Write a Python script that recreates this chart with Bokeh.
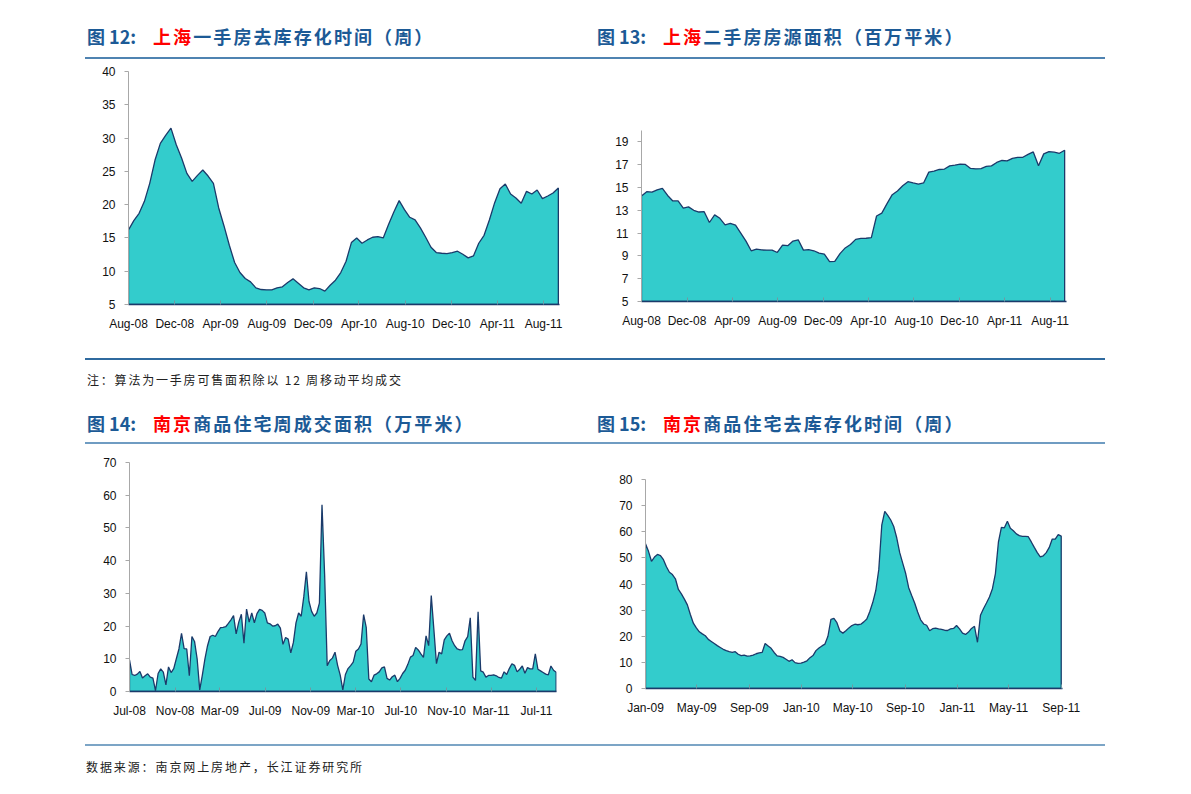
import pandas as pd
from bokeh.plotting import figure
from bokeh.layouts import column, row
from bokeh.models import Div, FixedTicker, DatetimeTickFormatter, Range1d
from bokeh.embed import file_html
from bokeh.resources import INLINE

# ---------------- data ----------------
# Fig 12: Shanghai new-home destocking time (weeks), bi-weekly from Aug-2008
start12 = "2008-08-01"
v12 = [16.2, 17.6, 18.7, 20.5, 23.2, 26.7, 29.2, 30.4, 31.5, 29.0, 27.0, 24.7, 23.5, 24.4,
       25.2, 24.3, 23.2, 19.5, 16.8, 13.9, 11.3, 9.8, 8.9, 8.4, 7.5, 7.25, 7.2, 7.2, 7.5, 7.65,
       8.3, 8.85, 8.2, 7.5, 7.2, 7.5, 7.4, 7.0, 7.9, 8.65, 9.8, 11.5, 14.3, 15.0, 14.2, 14.7,
       15.1, 15.2, 15.0, 17.0, 18.9, 20.6, 19.25, 18.1, 17.7, 16.5, 15.1, 13.6, 12.8, 12.7,
       12.65, 12.8, 13.0, 12.55, 12.0, 12.3, 14.2, 15.4, 17.7, 20.3, 22.4, 23.1, 21.6, 21.0,
       20.2, 22.0, 21.6, 22.2, 20.9, 21.3, 21.75, 22.5]
xt12 = ["Aug-08", "Dec-08", "Apr-09", "Aug-09", "Dec-09", "Apr-10", "Aug-10", "Dec-10", "Apr-11", "Aug-11"]
yt12 = [5, 10, 15, 20, 25, 30, 35, 40]

# Fig 13: Shanghai second-hand listings area (mn sqm), bi-weekly from Aug-2008
start13 = "2008-08-01"
v13 = [14.26, 14.63, 14.6, 14.8, 14.93, 14.3, 13.82, 13.82, 13.2, 13.3, 13.0, 12.85, 12.88,
       11.93, 12.6, 12.3, 11.72, 11.85, 11.7, 11.0, 10.3, 9.45, 9.6, 9.52, 9.51, 9.51, 9.3,
       9.95, 9.9, 10.3, 10.41, 9.51, 9.55, 9.45, 9.25, 9.16, 8.5, 8.52, 9.2, 9.7, 10.0, 10.45,
       10.53, 10.55, 10.6, 12.5, 12.75, 13.59, 14.37, 14.7, 15.15, 15.51, 15.4, 15.3, 15.4,
       16.35, 16.44, 16.58, 16.62, 16.9, 16.96, 17.05, 17.02, 16.67, 16.64, 16.66, 16.85, 16.9,
       17.2, 17.37, 17.33, 17.55, 17.65, 17.65, 17.9, 18.12, 16.9, 17.95, 18.15, 18.1, 18.0, 18.27]
xt13 = ["Aug-08", "Dec-08", "Apr-09", "Aug-09", "Dec-09", "Apr-10", "Aug-10", "Dec-10", "Apr-11", "Aug-11"]
yt13 = [5, 7, 9, 11, 13, 15, 17, 19]

# Fig 14: Nanjing weekly residential transaction area (10k sqm), weekly from Jul-2008
start14 = "2008-07-01"
v14 = [9.7, 5.2, 4.9, 5.3, 6.1, 4.1, 4.8, 5.4, 4.4, 4.1, 0.3, 5.5, 6.9, 5.9, 2.0, 7.5, 5.8, 7.0,
       10.0, 13.0, 17.8, 13.1, 13.0, 4.8, 16.8, 15.3, 10.0, 0.5, 5.0, 10.0, 14.0, 16.8, 17.2,
       16.8, 18.3, 19.5, 19.6, 19.8, 20.8, 21.9, 23.2, 17.6, 21.2, 23.6, 14.8, 25.2, 21.2, 24.0,
       21.0, 23.8, 25.1, 24.8, 24.0, 21.0, 20.7, 20.0, 20.1, 20.6, 19.4, 14.4, 16.5, 16.0, 11.8,
       15.0, 21.0, 24.0, 23.0, 29.0, 36.6, 27.5, 24.5, 23.0, 24.0, 27.0, 57.1, 35.9, 7.9, 9.5,
       10.2, 12.0, 8.0, 5.0, 0.5, 5.2, 7.0, 7.9, 9.0, 12.3, 13.0, 14.5, 23.5, 19.6, 3.8, 3.0,
       5.0, 5.4, 6.0, 7.2, 7.5, 4.0, 3.5, 4.5, 5.0, 3.0, 4.0, 5.5, 6.5, 8.3, 10.5, 11.0, 13.5,
       12.7, 11.5, 10.4, 17.0, 14.0, 29.3, 19.0, 8.5, 12.0, 11.5, 15.8, 17.0, 17.8, 15.5, 14.0,
       13.0, 12.7, 12.8, 15.5, 16.8, 22.5, 4.4, 3.4, 24.4, 6.3, 5.9, 4.4, 4.9, 4.9, 5.1, 4.8,
       4.3, 4.1, 6.0, 5.2, 7.0, 8.5, 8.0, 6.0, 6.8, 7.8, 5.6, 7.3, 6.9, 6.9, 11.5, 6.8, 6.3,
       5.8, 5.3, 5.1, 7.8, 6.5, 5.9]
xt14 = ["Jul-08", "Nov-08", "Mar-09", "Jul-09", "Nov-09", "Mar-10", "Jul-10", "Nov-10", "Mar-11", "Jul-11"]
yt14 = [0, 10, 20, 30, 40, 50, 60, 70]

# Fig 15: Nanjing residential destocking time (weeks), weekly from Jan-2009
start15 = "2009-01-01"
v15 = [55.4, 52.5, 48.7, 50.3, 51.3, 50.9, 49.3, 46.6, 44.5, 43.6, 42.0, 37.9, 36.2, 34.2,
       32.0, 28.3, 25.0, 23.2, 21.7, 20.9, 20.2, 18.8, 18.0, 17.2, 16.4, 15.7, 15.0, 14.5,
       14.1, 13.8, 14.1, 13.1, 12.6, 12.8, 12.4, 12.5, 12.8, 13.3, 13.6, 13.8, 17.2, 16.3,
       15.4, 13.8, 12.5, 12.3, 11.9, 11.2, 10.4, 11.0, 9.9, 9.6, 9.7, 10.1, 10.6, 11.8, 12.6,
       14.5, 15.5, 16.3, 17.0, 20.0, 26.5, 26.8, 25.2, 22.0, 21.2, 22.1, 23.2, 24.1, 24.6,
       24.4, 24.6, 25.5, 26.6, 29.5, 33.0, 37.5, 45.5, 62.5, 67.8, 66.3, 64.5, 62.0, 57.7,
       52.0, 48.0, 44.0, 38.6, 35.6, 32.7, 29.3, 26.3, 24.7, 24.2, 22.1, 22.9, 23.1, 22.8,
       22.6, 22.3, 22.2, 22.8, 23.0, 24.1, 22.8, 21.2, 20.7, 21.6, 23.0, 23.8, 17.7, 28.0,
       30.5, 32.7, 35.0, 38.2, 44.0, 56.0, 61.7, 61.5, 64.0, 61.3, 60.4, 59.2, 58.5, 58.2,
       58.2, 58.1, 56.1, 54.0, 52.0, 50.4, 50.8, 52.0, 54.0, 57.2, 57.2, 58.9, 58.3]
xt15 = ["Jan-09", "May-09", "Sep-09", "Jan-10", "May-10", "Sep-10", "Jan-11", "May-11", "Sep-11"]
yt15 = [0, 10, 20, 30, 40, 50, 60, 70, 80]

# ---------------- style ----------------
FILL = "#33CCCC"
EDGE = "#1b3a6a"
BLUE = "#1c5a96"
RED = "#ff0000"
AXFONT = "Liberation Sans"
CJK = "Noto Sans CJK SC"


def to_ms(idx):
    return [t.value / 1e6 for t in idx]


def chart(width, height, mb, start, freq, vals, ylo, yhi, yticks, xlabels, pad_days):
    dates = pd.date_range(start, periods=len(vals), freq=freq)
    xs = to_ms(dates)
    tick_ms = to_ms(pd.to_datetime(xlabels, format="%b-%y"))
    end = xs[-1] + pad_days * 86400000.0
    p = figure(width=width, height=height, output_backend="svg", toolbar_location=None,
               x_axis_type="datetime", x_range=Range1d(xs[0], end), y_range=Range1d(ylo, yhi),
               min_border_left=mb[0], min_border_right=mb[1], min_border_top=mb[2],
               min_border_bottom=mb[3], background_fill_color="white",
               border_fill_color="white")
    p.frame_align = False
    p.outline_line_color = None
    p.grid.grid_line_color = None
    p.patch(x=[xs[0]] + xs + [xs[-1]], y=[ylo] + list(vals) + [ylo],
            fill_color=FILL, line_color=EDGE, line_width=1.3)
    p.xaxis.ticker = FixedTicker(ticks=tick_ms)
    fmt = "%b-%y"
    p.xaxis.formatter = DatetimeTickFormatter(days=fmt, months=fmt, years=fmt, hours=fmt,
                                              minutes=fmt, seconds=fmt, milliseconds=fmt,
                                              hourmin=fmt, minsec=fmt)
    p.xaxis.major_tick_in = 4
    p.xaxis.major_tick_out = 0
    p.xaxis.major_tick_line_color = "#6f9aa3"
    p.xaxis.axis_line_color = EDGE
    p.xaxis.axis_line_width = 1.3
    p.xaxis.minor_tick_line_color = None
    p.xaxis.major_label_standoff = 12
    p.yaxis.ticker = FixedTicker(ticks=yticks)
    p.yaxis.major_tick_in = 0
    p.yaxis.major_tick_out = 4
    p.yaxis.major_tick_line_color = "#a8a8a8"
    p.yaxis.axis_line_color = "#a8a8a8"
    p.yaxis.minor_tick_line_color = None
    p.yaxis.major_label_standoff = 9
    for ax in (p.xaxis, p.yaxis):
        ax.major_label_text_font = AXFONT
        ax.major_label_text_font_size = "12px"
        ax.major_label_text_color = "#111111"
    return p


p12 = chart(573, 284, (128, 14, 11, 40), start12, "14D", v12, 5, 40, yt12, xt12, 3)
p13 = chart(517, 284, (68, 24, 70, 43), start13, "14D", v13, 5, 20, yt13, xt13, 5)
p14 = chart(573, 289, (129, 17, 16, 44), start14, "7D", v14, 0, 70, yt14, xt14, 1)
p15 = chart(517, 289, (72, 28, 33, 47), start15, "7D", v15, 0, 80, yt15, xt15, 3)

# ---------------- text blocks ----------------
t12 = ("12", "上海", "一手房去库存化时间（周）")
t13 = ("13", "上海", "二手房房源面积（百万平米）")
t14 = ("14", "南京", "商品住宅周成交面积（万平米）")
t15 = ("15", "南京", "商品住宅去库存化时间（周）")
note = "注：算法为一手房可售面积除以 12 周移动平均成交"
source = "数据来源：南京网上房地产，长江证券研究所"


def title(left, top, t):
    num, city, rest = t
    return (f'<div style="position:absolute;left:{left}px;top:{top}px;white-space:nowrap;'
            f'font-family:\'{CJK}\';font-size:18px;line-height:18px;font-weight:700;color:{BLUE};">'
            f'<span>图 {num}:</span>'
            f'<span style="position:absolute;left:66px;top:0;letter-spacing:2.1px;">'
            f'<span style="color:{RED};">{city}</span>{rest}</span></div>')


def rule(top, color):
    return (f'<div style="position:absolute;left:85px;top:{top}px;width:1020px;height:2px;'
            f'background:{color};"></div>')


def small(left, top, txt, spacing):
    return (f'<div style="position:absolute;left:{left}px;top:{top}px;white-space:nowrap;'
            f'font-family:\'{CJK}\';font-size:12px;line-height:14px;color:#222;'
            f'letter-spacing:{spacing}px;">{txt}</div>')


def block(w, h, inner):
    return Div(text=f'<div style="position:relative;width:{w}px;height:{h}px;">{inner}</div>',
               width=w, height=h, margin=(0, 0, 0, 0))


d1 = block(1180, 60, title(87, 27, t12) + title(597, 27, t13) + rule(57, "#4f83b1"))
d2 = block(1180, 102, rule(14, "#2f6a9f") + small(87, 29, note, 1.8)
           + title(87, 70, t14) + title(597, 70, t15) + rule(98, "#6f9cc2"))
d3 = block(1180, 50, rule(9, "#7ca5c6") + small(86, 25, source, 1.9))

layout = column(d1, row(p12, p13, spacing=0), d2, row(p14, p15, spacing=0), d3, spacing=0)

open("out.html", "w").write(file_html(layout, INLINE))
